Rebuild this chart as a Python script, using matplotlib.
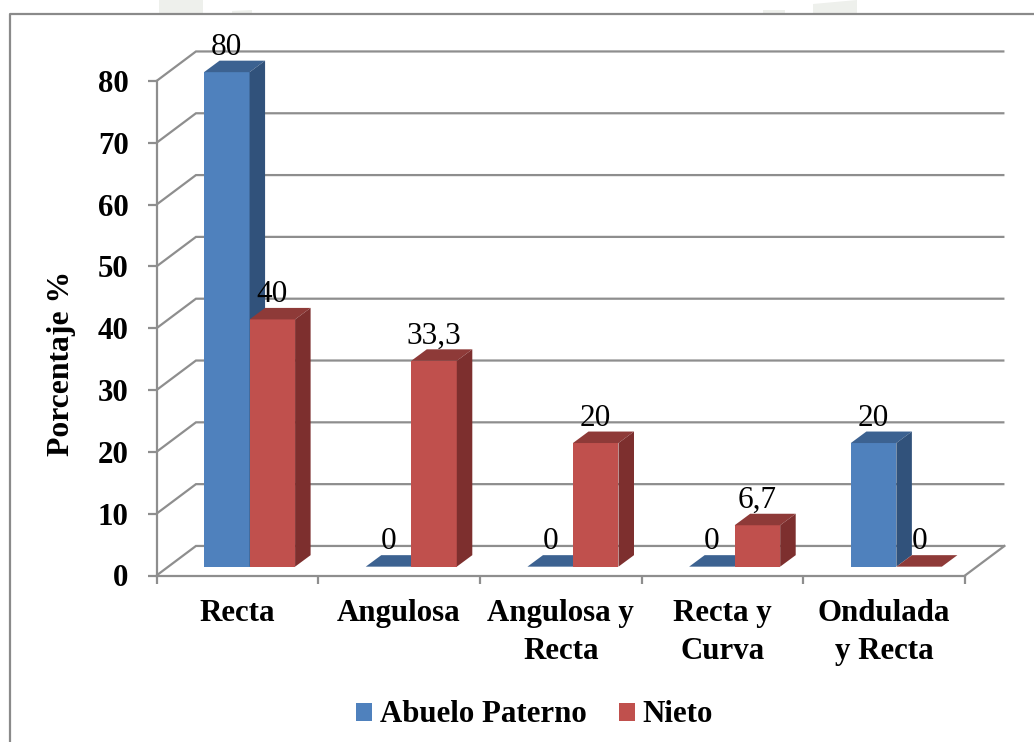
import matplotlib
matplotlib.use("Agg")
import matplotlib.pyplot as plt
from matplotlib.lines import Line2D
from matplotlib.patches import Patch, Polygon

categories = ["Recta", "Angulosa", "Angulosa y\nRecta", "Recta y\nCurva", "Ondulada\ny Recta"]
abuelo = [80, 0, 0, 0, 20]
nieto = [40, 33.3, 20, 6.7, 0]
value_labels_abuelo = ["80", "0", "0", "0", "20"]
value_labels_nieto = ["40", "33,3", "20", "6,7", "0"]
y_ticks = [0, 10, 20, 30, 40, 50, 60, 70, 80]
series_names = ["Abuelo Paterno", "Nieto"]

W, H = 1034, 742
plt.rcParams["font.family"] = ["Liberation Serif", "DejaVu Serif"]
GRAY = "#8e8e8e"
BLUE = ("#4F81BD", "#3C6291", "#31527B")
RED = ("#C0504D", "#8E3A38", "#7D2F2E")
FS = 22.2

fig = plt.figure(figsize=(W / 100, H / 100), dpi=100, facecolor="white")
L, R, B, T = 156.5, 965, 575.5, 81
ax = fig.add_axes([L / W, 1 - B / H, (R - L) / W, (B - T) / H])
ax.patch.set_alpha(0)
ax.set_xlim(0, 5)
ax.set_ylim(0, 80)

# perspective offsets in data units
wall_dx, wall_dy = 0.244, 4.78
bar_dx, bar_dy = 0.096, 1.86
bar_width, bar_left, floor = 0.2815, 0.294, 1.43


# faint background remains above the frame
def px(x, y):
    return (x / W, 1 - y / H)


for pts in ([(159, 0), (203, 0), (203, 14), (159, 14)],
            [(232, 11), (252, 10), (252, 14), (232, 14)],
            [(763, 10), (785, 10), (785, 14), (763, 14)],
            [(813, 4), (857, 0), (857, 14), (813, 14)]):
    fig.add_artist(Polygon([px(*p) for p in pts], closed=True, transform=fig.transFigure,
                           facecolor="#eef0ec", edgecolor="none", zorder=0))

# outer frame
fig.add_artist(Line2D([10 / W, 10 / W, 1], [0, 1 - 14 / H, 1 - 14 / H], color="#8a8a8a", lw=1.6,
                      transform=fig.transFigure, zorder=1))

# gridlines and perspective walls
for t in y_ticks:
    ax.plot([0, wall_dx, 5 + wall_dx], [t, t + wall_dy, t + wall_dy], color=GRAY, lw=1.6,
            clip_on=False, zorder=1, solid_capstyle="butt", solid_joinstyle="miter")
ax.plot([5, 5 + wall_dx], [0, wall_dy], color=GRAY, lw=1.6, clip_on=False, zorder=1)


def draw_bar(left, value, cols, z):
    top = floor + value
    ax.bar(left, value, bar_width, bottom=floor, align="edge", color=cols[0], zorder=z, clip_on=False)
    ax.fill([left, left + bar_width, left + bar_width + bar_dx, left + bar_dx],
            [top, top, top + bar_dy, top + bar_dy], color=cols[1], lw=0, zorder=z, clip_on=False)
    ax.fill([left + bar_width, left + bar_width + bar_dx, left + bar_width + bar_dx, left + bar_width],
            [floor, floor + bar_dy, top + bar_dy, top], color=cols[2], lw=0, zorder=z, clip_on=False)


z = 3
for i in range(len(categories)):
    left_a = i + bar_left
    left_n = left_a + bar_width
    draw_bar(left_a, abuelo[i], BLUE, z)
    draw_bar(left_n, nieto[i], RED, z + 1)
    z += 2

label_gap = 2.8
for i in range(len(categories)):
    left_a = i + bar_left
    left_n = left_a + bar_width
    ax.text(left_a + bar_width / 2, abuelo[i] + floor + label_gap, value_labels_abuelo[i],
            ha="center", va="baseline", fontsize=22.5, color="black", zorder=50, clip_on=False)
    ax.text(left_n + bar_width / 2, nieto[i] + floor + label_gap, value_labels_nieto[i],
            ha="center", va="baseline", fontsize=22.5, color="black", zorder=50, clip_on=False)

# axes
for s in ("top", "right"):
    ax.spines[s].set_visible(False)
for s in ("left", "bottom"):
    ax.spines[s].set_color(GRAY)
    ax.spines[s].set_linewidth(1.6)
ax.set_yticks(y_ticks)
ax.set_yticklabels([str(t) for t in y_ticks], fontsize=FS, fontweight="bold")
ax.tick_params(axis="y", length=6.5, width=1.6, color=GRAY, pad=13.5)
ax.set_xticks(range(6))
ax.set_xticklabels([])
ax.tick_params(axis="x", which="major", length=6, width=1.6, color=GRAY)
ax.set_xticks([i + 0.5 for i in range(5)], minor=True)
ax.set_xticklabels(categories, minor=True, fontsize=FS, fontweight="bold", linespacing=1.4)
ax.tick_params(axis="x", which="minor", length=0, pad=17)
ax.set_ylabel("Porcentaje %", fontsize=22.8, fontweight="bold")
ax.yaxis.set_label_coords((76 - L) / (R - L), (B - 363) / (B - T))

fig.legend(handles=[Patch(facecolor=BLUE[0], label=series_names[0]),
                    Patch(facecolor=RED[0], label=series_names[1])],
           loc="center", bbox_to_anchor=(534.5 / W, 1 - 715 / H), ncol=2, frameon=False,
           prop={"size": FS, "weight": "bold"}, handlelength=0.52, handleheight=0.52,
           handletextpad=0.25, columnspacing=1.05, borderpad=0, borderaxespad=0)

fig.savefig("out.png", dpi=100)
